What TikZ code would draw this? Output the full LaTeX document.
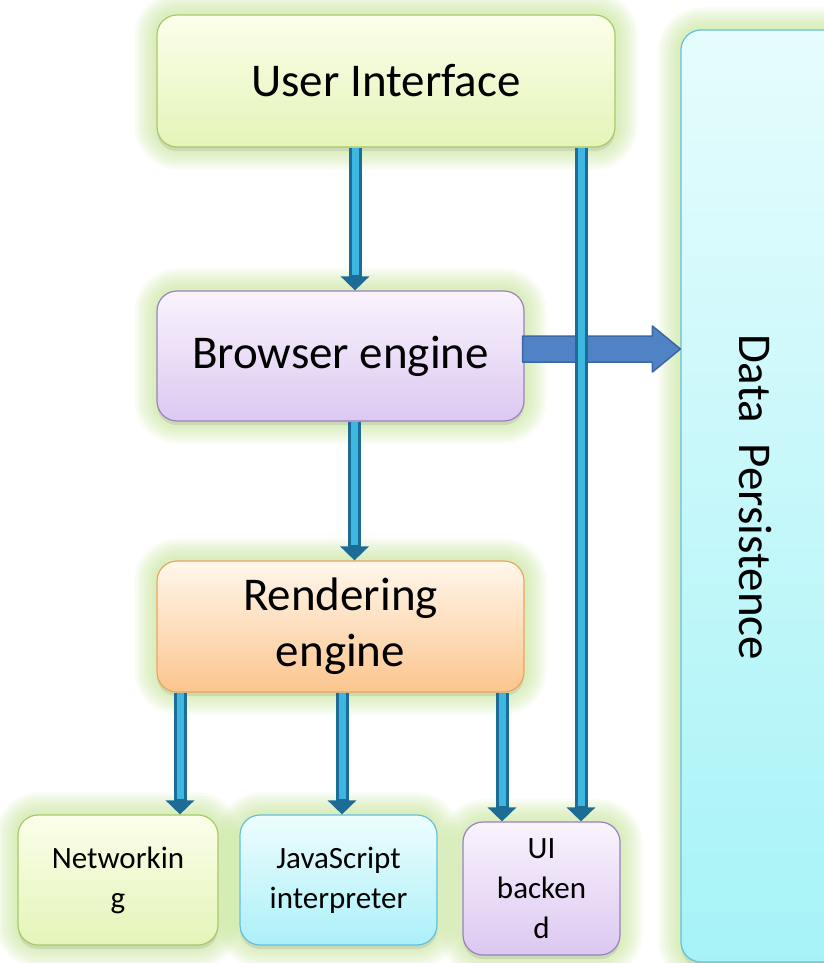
\documentclass[tikz,border=0pt]{standalone}
\usepackage{fontspec}
\setmainfont{Carlito}
\usetikzlibrary{arrows.meta,backgrounds,shadows,calc}
\definecolor{glowc}{HTML}{C3E592}
\definecolor{arrdark}{HTML}{1D6C96}
\definecolor{arrlight}{HTML}{3DB6E2}
\definecolor{ygtop}{HTML}{FBFEEA}
\definecolor{ygbot}{HTML}{E4F4B8}
\definecolor{ygdraw}{HTML}{A9C965}
\definecolor{putop}{HTML}{FAF3FD}
\definecolor{pubot}{HTML}{DCC8F1}
\definecolor{pudraw}{HTML}{9A80BF}
\definecolor{ortop}{HTML}{FFF7EC}
\definecolor{orbot}{HTML}{FCC58E}
\definecolor{ordraw}{HTML}{EDA45C}
\definecolor{cytop}{HTML}{EEFDFE}
\definecolor{cybot}{HTML}{ABF0F8}
\definecolor{cydraw}{HTML}{62BFDC}
\definecolor{dptop}{HTML}{E6FCFD}
\definecolor{dpbot}{HTML}{A6F3F7}
\definecolor{blkfill}{HTML}{4F83C6}
\definecolor{blkdraw}{HTML}{3A67A3}
\tikzset{
  box/.style={rectangle, rounded corners=20pt, inner sep=0pt, line width=1.2pt, align=center,
    drop shadow={opacity=0.18, shadow xshift=0pt, shadow yshift=-4pt}},
  bigtxt/.style={font=\fontsize{47}{56}\selectfont},
  smalltxt/.style={font=\fontsize{31}{40}\selectfont},
  yg/.style={box, draw=ygdraw, top color=ygtop, bottom color=ygbot},
  pu/.style={box, draw=pudraw, top color=putop, bottom color=pubot},
  orb/.style={box, draw=ordraw, top color=ortop, bottom color=orbot},
  cy/.style={box, draw=cydraw, top color=cytop, bottom color=cybot},
  dpbox/.style={box, draw=cydraw, top color=dptop, bottom color=dpbot},
  tarrow/.style={line width=13pt, draw=arrdark, -{Triangle[length=14pt,width=28pt]},
    postaction={draw=arrlight, line width=7pt, -, shorten >=15pt}},
  blockarr/.style={fill=blkfill, draw=blkdraw, line width=1.5pt, line join=round},
  glowline/.style={draw=glowc, rounded corners=22pt, opacity=0.11}
}
\begin{document}
\begin{tikzpicture}[x=1pt,y=-1pt]
\useasboundingbox (0,0) rectangle (823,963);

\node[yg, bigtxt, minimum width=458pt, minimum height=132pt] (ui) at (386,81) {User Interface};
\node[pu, bigtxt, minimum width=367pt, minimum height=130pt] (be) at (340.5,356) {Browser engine};
\node[orb, bigtxt, minimum width=367pt, minimum height=131pt] (re) at (340.5,626.5) {Rendering\\engine};
\node[yg, smalltxt, minimum width=200pt, minimum height=130pt] (nw) at (118,880) {Networkin\\g};
\node[cy, smalltxt, minimum width=197pt, minimum height=130pt] (js) at (338.5,880) {JavaScript\\interpreter};
\node[pu, smalltxt, minimum width=157pt, minimum height=133pt] (ub) at (541.5,888.5) {UI\\backen\\d};
\node[dpbox, minimum width=170pt, minimum height=932pt] (dp) at (766,496) {};
\node[bigtxt, rotate=-90, anchor=base, inner sep=0pt] (dpt) at (739,497) {Data\ \ Persistence};

\begin{scope}[on background layer]
  \fill[white] (0,0) rectangle (823,963);
  \foreach \n in {ui,be,re,nw,js,ub,dp}{
    \foreach \w in {44,38,32,26,20,14,8}{
      \draw[glowline, line width=\w pt] (\n.north west) rectangle (\n.south east);
    }
  }
\end{scope}

% block arrow Browser engine -> Data Persistence
\coordinate (bs) at ([yshift=7pt]be.east);
\coordinate (bt) at (dp.west |- bs);
\draw[blockarr] ([xshift=-2pt,yshift=13pt]bs) -- ([xshift=-28pt,yshift=13pt]bt)
  -- ([xshift=-28pt,yshift=23pt]bt) -- (bt) -- ([xshift=-28pt,yshift=-23pt]bt)
  -- ([xshift=-28pt,yshift=-13pt]bt) -- ([xshift=-2pt,yshift=-13pt]bs) -- cycle;

% thin arrows
\draw[tarrow] ([xshift=-31pt]ui.south) -- ([xshift=-31pt]ui.south |- be.north);
\draw[tarrow] ([xshift=14pt]be.south) -- ([xshift=14pt]be.south |- re.north);
\draw[tarrow] ([xshift=-160.5pt]re.south) -- ([xshift=-160.5pt]re.south |- nw.north);
\draw[tarrow] ([xshift=1.5pt]re.south) -- ([xshift=1.5pt]re.south |- js.north);
\draw[tarrow] ([xshift=161.5pt]re.south) -- ([xshift=161.5pt]re.south |- ub.north);
\draw[tarrow] ([xshift=195pt]ui.south) -- ([xshift=195pt]ui.south |- ub.north);
\end{tikzpicture}
\end{document}
